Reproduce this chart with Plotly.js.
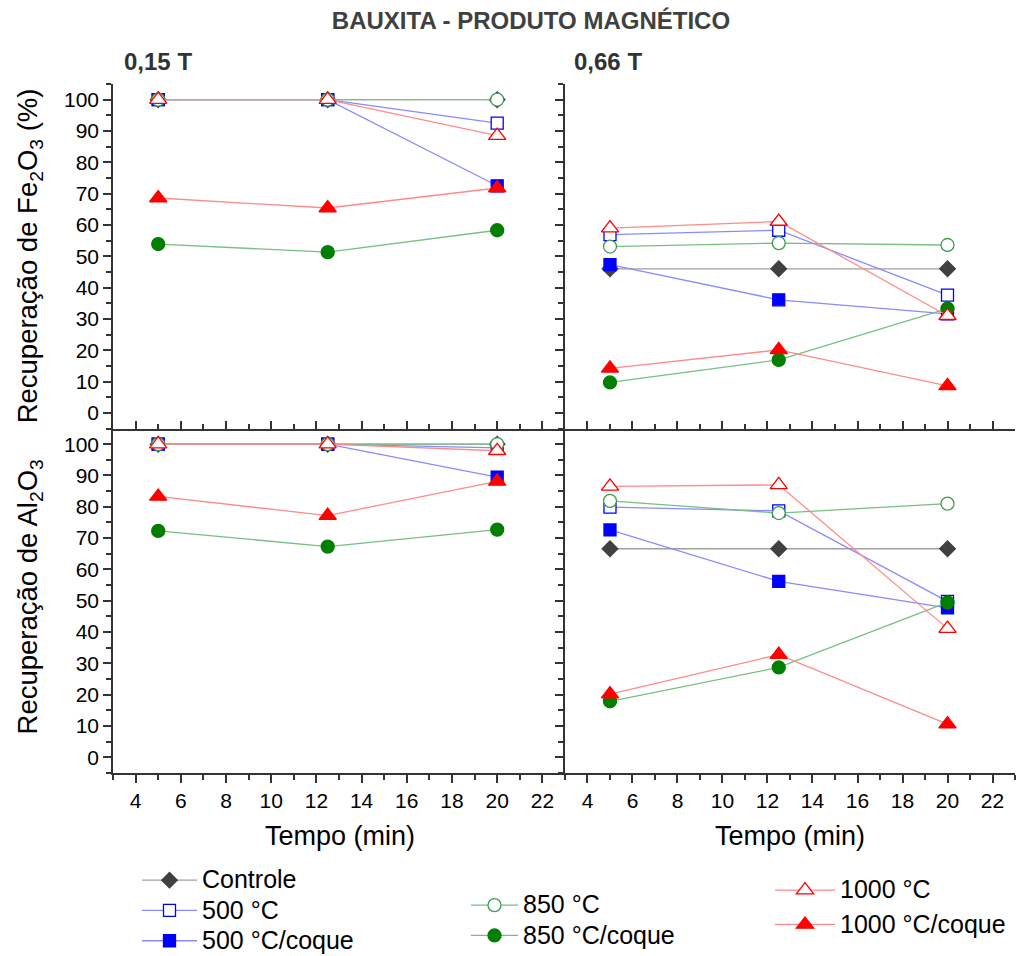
<!DOCTYPE html>
<html>
<head>
<meta charset="utf-8">
<script src="https://cdn.plot.ly/plotly-3.0.1.min.js"></script>
<style>
  html, body { margin: 0; padding: 0; background: #fff; }
  #chart { width: 1016px; height: 956px; }
</style>
</head>
<body>
<div id="chart"></div>
<script>
// Tempo de separação (min)
const tempo = [5, 12.5, 20];

const seriesNames = ['Controle', '500 °C', '500 °C/coque', '850 °C', '850 °C/coque', '1000 °C', '1000 °C/coque'];

// Recuperação de Fe2O3 (%) – 0,15 T
const feLow = [
  [100, 100, 100],
  [100, 100, 92.5],
  [100, 100, 72.5],
  [100, 100, 100],
  [53.9, 51.3, 58.3],
  [100, 100, 88.5],
  [68.6, 65.4, 71.8]
];

// Recuperação de Fe2O3 (%) – 0,66 T
const feHigh = [
  [46, 46, 46],
  [56.9, 58.3, 37.6],
  [47.3, 36.1, 31.6],
  [53.1, 54.2, 53.6],
  [9.7, 16.9, 33.3],
  [59, 61.1, 31],
  [14.2, 20.1, 8.6]
];

// Recuperação de Al2O3 (%) – 0,15 T
const alLow = [
  [100, 100, 100],
  [100, 100, 98.8],
  [100, 100, 89.5],
  [100, 100, 100],
  [72.3, 67.3, 72.7],
  [100, 100, 97.9],
  [83.3, 77.2, 88.1]
];

// Recuperação de Al2O3 (%) – 0,66 T
const alHigh = [
  [66.6, 66.6, 66.6],
  [79.9, 78.7, 49.8],
  [72.6, 56.2, 47.7],
  [81.9, 78, 81],
  [17.9, 28.7, 49.5],
  [86.5, 87, 41.1],
  [20.2, 32.8, 10.6]
];

const xTickRange = [3, 23];
const yTickRange = [-5, 105];

// marker / line styling per series
const symbols    = ['diamond', 'square', 'square', 'circle', 'circle', 'triangle-up', 'triangle-up'];
const edgeColors = ['#404040', '#0000ff', '#0000ff', '#3c9c50', '#007f00', '#ff0000', '#ff0000'];
const fillColors = ['#404040', '#ffffff', '#0000ff', '#ffffff', '#007f00', '#ffffff', '#ff0000'];
const lineColors = ['#a0a0a0', '#8a8aff', '#8a8aff', '#78bf82', '#78bf82', '#ff8a8a', '#ff8a8a'];
const markerSizes = [12, 12, 12, 13, 13, 15, 15];
const legendIds  = ['legend', 'legend', 'legend', 'legend2', 'legend2', 'legend3', 'legend3'];

const FONT = 'Liberation Sans, Arial, Helvetica, sans-serif';
const AXIS_COLOR = '#333333';

const panels = [
  { values: feLow,  xa: 'x',  ya: 'y'  },
  { values: feHigh, xa: 'x2', ya: 'y2' },
  { values: alLow,  xa: 'x3', ya: 'y3' },
  { values: alHigh, xa: 'x4', ya: 'y4' }
];

const traces = [];
panels.forEach((p, pi) => {
  p.values.forEach((vals, si) => {
    traces.push({
      type: 'scatter',
      mode: 'lines+markers',
      x: tempo,
      y: vals,
      xaxis: p.xa,
      yaxis: p.ya,
      name: '<span style="font-size:25px">' + seriesNames[si] + '</span>',
      legendgroup: seriesNames[si],
      legend: legendIds[si],
      showlegend: pi === 0,
      line: { color: lineColors[si], width: 1.3 },
      marker: {
        symbol: symbols[si],
        size: markerSizes[si],
        color: fillColors[si],
        line: { color: edgeColors[si], width: 1.3 }
      },
      hovertemplate: seriesNames[si] + ': %{y}<extra></extra>'
    });
  });
});

function axis(extra) {
  return Object.assign({
    showline: true,
    linecolor: AXIS_COLOR,
    linewidth: 1.6,
    showgrid: false,
    zeroline: false,
    tickcolor: AXIS_COLOR,
    tickwidth: 1.5,
    ticklen: 8,
    tickfont: { family: FONT, size: 21, color: '#000' },
    fixedrange: true
  }, extra);
}

function xAxis(extra, tickDir) {
  return axis(Object.assign({
    range: xTickRange,
    tickmode: 'linear', tick0: 0, dtick: 2,
    ticks: tickDir,
    minor: { tickmode: 'linear', tick0: 0, dtick: 1, ticks: tickDir, ticklen: 5, tickcolor: AXIS_COLOR, tickwidth: 1.5 }
  }, extra));
}

function yAxis(extra, tickDir) {
  return axis(Object.assign({
    range: yTickRange,
    tickmode: 'linear', tick0: 0, dtick: 10,
    ticks: tickDir,
    minor: { tickmode: 'linear', tick0: 0, dtick: 5, ticks: tickDir, ticklen: 5, tickcolor: AXIS_COLOR, tickwidth: 1.5 }
  }, extra));
}

const xSplit = 0.5011;
const ySplit = 0.5;

function legendBox(x, top, itemwidth, gap) {
  return {
    xref: 'container', x: x / 1016, xanchor: 'left',
    yref: 'container', y: 1 - top / 956, yanchor: 'top',
    font: { family: FONT, size: 21, color: '#000' },
    bgcolor: 'rgba(0,0,0,0)', itemwidth: itemwidth, tracegroupgap: gap,
    itemclick: false, itemdoubleclick: false
  };
}

const layout = {
  width: 1016,
  height: 956,
  margin: { l: 113, r: 1, t: 84, b: 183, autoexpand: false },
  paper_bgcolor: '#ffffff',
  plot_bgcolor: '#ffffff',
  font: { family: FONT, color: '#000' },
  showlegend: true,
  title: {
    text: '<b>BAUXITA - PRODUTO MAGNÉTICO</b>',
    font: { family: FONT, size: 24, color: '#404040' },
    xref: 'container', x: 0.5226, xanchor: 'center',
    yref: 'container', y: 0.978, yanchor: 'middle'
  },

  // main axes
  xaxis:  xAxis({ domain: [0, xSplit], anchor: 'y',  showticklabels: false }, 'inside'),
  yaxis:  yAxis({ domain: [ySplit, 1], anchor: 'x' }, 'outside'),
  xaxis2: xAxis({ domain: [xSplit, 1], anchor: 'y2', showticklabels: false }, 'inside'),
  yaxis2: yAxis({ domain: [ySplit, 1], anchor: 'x2', showticklabels: false }, 'outside'),
  xaxis3: xAxis({ domain: [0, xSplit], anchor: 'y3' }, 'outside'),
  yaxis3: yAxis({ domain: [0, ySplit], anchor: 'x3' }, 'outside'),
  xaxis4: xAxis({ domain: [xSplit, 1], anchor: 'y4' }, 'outside'),
  yaxis4: yAxis({ domain: [0, ySplit], anchor: 'x4', showticklabels: false }, 'outside'),

  // frame: top and right sides with inward ticks
  xaxis5: xAxis({ overlaying: 'x',  anchor: 'y',  side: 'top', showticklabels: false }, 'inside'),
  yaxis5: yAxis({ overlaying: 'y',  anchor: 'x',  side: 'right', showticklabels: false }, 'inside'),
  xaxis6: xAxis({ overlaying: 'x2', anchor: 'y2', side: 'top', showticklabels: false }, 'inside'),
  yaxis6: yAxis({ overlaying: 'y2', anchor: 'x2', side: 'right', showticklabels: false }, 'inside'),
  xaxis7: xAxis({ overlaying: 'x3', anchor: 'y3', side: 'top', showticklabels: false }, 'inside'),
  yaxis7: yAxis({ overlaying: 'y3', anchor: 'x3', side: 'right', showticklabels: false }, 'inside'),
  xaxis8: xAxis({ overlaying: 'x4', anchor: 'y4', side: 'top', showticklabels: false }, 'inside'),
  yaxis8: yAxis({ overlaying: 'y4', anchor: 'x4', side: 'right', showticklabels: false }, 'inside'),

  legend:  legendBox(137, 860, 55, 0),
  legend2: legendBox(466, 885, 47, 0),
  legend3: legendBox(770, 870, 60, 4),

  annotations: [
    { text: '<b>0,15 T</b>', xref: 'paper', yref: 'paper', x: 0.01, y: 1.032, xanchor: 'left', yanchor: 'middle',
      showarrow: false, font: { family: FONT, size: 24, color: '#333' } },
    { text: '<b>0,66 T</b>', xref: 'paper', yref: 'paper', x: 0.509, y: 1.032, xanchor: 'left', yanchor: 'middle',
      showarrow: false, font: { family: FONT, size: 24, color: '#333' } },
    { text: 'Recuperação de Fe<sub>2</sub>O<sub>3</sub> (%)', xref: 'paper', yref: 'paper', x: -0.093, y: 0.75,
      xanchor: 'center', yanchor: 'middle', textangle: -90, showarrow: false, font: { family: FONT, size: 27.5, color: '#000' } },
    { text: 'Recuperação de Al<sub>2</sub>O<sub>3</sub>', xref: 'paper', yref: 'paper', x: -0.093, y: 0.255,
      xanchor: 'center', yanchor: 'middle', textangle: -90, showarrow: false, font: { family: FONT, size: 27.5, color: '#000' } },
    { text: 'Tempo (min)', xref: 'paper', yref: 'paper', x: 0.2517, y: -0.0914,
      xanchor: 'center', yanchor: 'middle', showarrow: false, font: { family: FONT, size: 27, color: '#000' } },
    { text: 'Tempo (min)', xref: 'paper', yref: 'paper', x: 0.7506, y: -0.0914,
      xanchor: 'center', yanchor: 'middle', showarrow: false, font: { family: FONT, size: 27, color: '#000' } }
  ]
};

Plotly.newPlot('chart', traces, layout, { displayModeBar: false, responsive: false });
</script>
</body>
</html>
